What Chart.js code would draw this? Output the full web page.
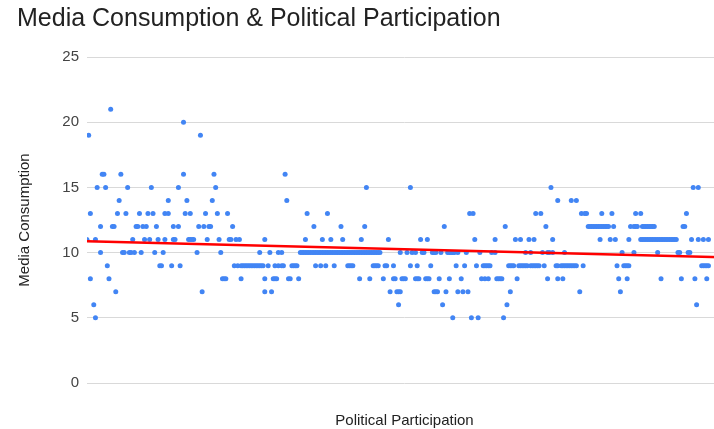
<!DOCTYPE html>
<html>
<head>
<meta charset="utf-8">
<script src="https://cdn.jsdelivr.net/npm/chart.js@4"></script>
<style>
  html, body { margin: 0; padding: 0; background: #fff; overflow: hidden; width: 714px; height: 429px; }
  #wrap { width: 726px; height: 429px; }
</style>
</head>
<body>
<div id="wrap"><canvas id="c" width="726" height="429"></canvas></div>
<script>
// Political participation scores (x) grouped by media consumption level (y)
const media21 = [14];
const media20 = [57];
const media19 = [1, 67];
const media16 = [9, 10, 20, 57, 75, 117];
const media15 = [6, 11, 24, 38, 54, 76, 165, 191, 274, 358, 361];
const media14 = [19, 48, 59, 74, 118, 278, 286, 289];
const media13 = [2, 18, 23, 31, 36, 39, 46, 48, 58, 61, 70, 77, 83, 130, 142, 226, 228, 265, 268, 292, 294, 295, 304, 310, 324, 327, 354];
const media12 = [8, 15, 16, 29, 30, 33, 35, 41, 51, 54, 66, 69, 72, 73, 86, 134, 150, 164, 211, 247, 271,
  296, 297, 298, 299, 300, 301, 302, 303, 304, 305, 306, 307, 308, 311, 321, 323, 324, 325,
  328, 329, 330, 331, 332, 333, 334, 335, 352, 353];
const media11 = [0, 5, 27, 34, 37, 42, 46, 51, 52, 60, 61, 62, 63, 71, 78, 84, 85, 88, 90, 105, 129, 139, 144, 151, 162, 178,
  197, 201, 229, 241, 253, 256, 261, 264, 275, 303, 309, 312, 320,
  327, 328, 329, 330, 331, 332, 333, 334, 335, 336, 337, 338, 339, 340, 341, 342, 343, 344, 345, 346, 347, 348,
  357, 361, 364, 367];
const media10 = [8, 21, 22, 25, 26, 28, 32, 40, 45, 65, 79, 102, 108, 113, 115,
  126, 127, 128, 129, 130, 131, 132, 133, 134, 135, 136, 137, 138, 139, 140, 141, 142, 143, 144, 145, 146, 147, 148, 149,
  150, 151, 152, 153, 154, 155, 156, 157, 158, 159, 160, 161, 162, 163, 164, 165, 166, 167, 168, 169, 170, 171, 172, 173,
  185, 189, 192, 194, 198, 199, 204, 205, 206, 209, 213, 214, 215, 216, 217, 219, 224, 232, 239, 241,
  259, 262, 269, 272, 273, 275, 282, 316, 323, 337, 349, 350, 355, 356];
const media9 = [12, 43, 44, 50, 55, 87, 89, 91, 92, 93, 94, 95, 96, 97, 98, 99, 100, 101, 102, 103, 104, 107, 111, 113, 115, 116,
  121, 122, 123, 124, 135, 138, 141, 146, 154, 155, 156, 157, 169, 170, 171, 172, 176, 177, 181, 191, 195, 203, 218, 223, 230,
  234, 235, 236, 237, 238, 249, 250, 251, 252, 255, 256, 257, 258, 259, 260, 262, 263, 264, 265, 266, 267, 270, 277, 278,
  280, 281, 282, 283, 284, 285, 286, 287, 288, 289, 293, 313, 317, 318, 319, 320, 363, 364, 365, 366, 367];
const media8 = [2, 13, 80, 81, 82, 91, 105, 110, 111, 112, 119, 120, 125, 161, 167, 175, 181, 182, 186, 187, 188, 194, 195, 196,
  200, 201, 202, 208, 214, 221, 233, 235, 237, 242, 243, 244, 245, 254, 272, 278, 281, 314, 319, 339, 351, 359, 366];
const media7 = [17, 68, 105, 109, 179, 183, 184, 185, 205, 206, 207, 212, 219, 222, 225, 250, 291, 315];
const media6 = [4, 184, 210, 248, 360];
const media5 = [5, 216, 227, 231, 246];

// Trendline end values (media consumption at min / max participation)
const trendX = [0, 375];
const trendY = [10.87, 9.65];

const yTicks = [0, 5, 10, 15, 20, 25];

const levels = [
  [21, media21], [20, media20], [19, media19], [16, media16], [15, media15], [14, media14],
  [13, media13], [12, media12], [11, media11], [10, media10], [9, media9], [8, media8],
  [7, media7], [6, media6], [5, media5]
];
const points = [];
levels.forEach(([y, xs]) => xs.forEach(x => points.push({ x: x, y: y })));
const trend = trendX.map((x, i) => ({ x: x, y: trendY[i] }));

const FONT = "'Liberation Sans', Arial, Helvetica, sans-serif";

new Chart(document.getElementById('c'), {
  type: 'scatter',
  data: {
    datasets: [
      {
        type: 'line',
        data: trend,
        borderColor: '#ff0000',
        borderWidth: 2.5,
        pointRadius: 0,
        fill: false,
        order: 0
      },
      {
        data: points,
        backgroundColor: '#4285f4',
        borderWidth: 0,
        pointRadius: 2.5,
        order: 1
      }
    ]
  },
  options: {
    responsive: false,
    devicePixelRatio: 1,
    animation: false,
    layout: { padding: { left: 17, right: 0, top: 4, bottom: 0 } },
    plugins: {
      legend: { display: false },
      tooltip: { enabled: false },
      title: {
        display: true,
        text: 'Media Consumption & Political Participation',
        align: 'start',
        color: '#222222',
        font: { family: FONT, size: 25, weight: 'normal', lineHeight: 1.2 },
        padding: { top: 0.6, bottom: 22.4 }
      }
    },
    scales: {
      x: {
        type: 'linear',
        min: 0,
        max: 375,
        grid: { display: false, drawTicks: false },
        border: { display: false },
        ticks: { display: false },
        title: {
          display: true,
          text: 'Political Participation',
          color: '#222222',
          font: { family: FONT, size: 15, lineHeight: 1.0 },
          padding: { top: 30.5, bottom: 0.5 }
        }
      },
      y: {
        min: 0,
        max: 25,
        afterBuildTicks: (axis) => { axis.ticks = yTicks.map(v => ({ value: v })); },
        grid: { color: '#d9d9d9', lineWidth: 1, drawTicks: false },
        border: { display: false },
        ticks: { color: '#444444', font: { family: FONT, size: 15 }, padding: 8 },
        title: {
          display: true,
          text: 'Media Consumption',
          color: '#222222',
          font: { family: FONT, size: 15, lineHeight: 1.0 },
          padding: { top: 0.5, bottom: 21.8 }
        }
      }
    }
  }
});
</script>
</body>
</html>
